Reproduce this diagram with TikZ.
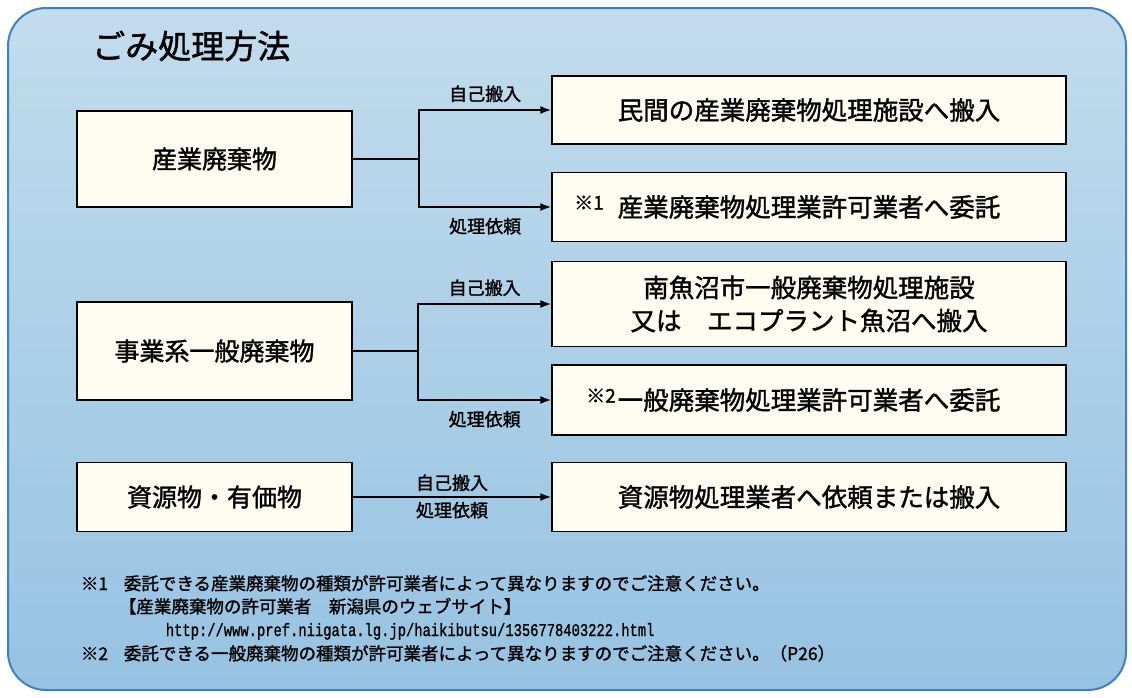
\documentclass[tikz,border=0pt]{standalone}
\usepackage{fontspec}
\setmainfont{Noto Sans CJK JP}[FakeBold=1.4]
\newfontfamily\urlfont{Liberation Mono}[FakeBold=1.2]
\usetikzlibrary{arrows.meta}
\definecolor{paneltop}{RGB}{194,220,237}
\definecolor{panelbot}{RGB}{150,195,226}
\definecolor{panelline}{RGB}{62,128,192}
\definecolor{boxfill}{RGB}{255,253,242}
\tikzstyle{waste} = [rectangle, draw=black, fill=boxfill, line width=1.4pt, minimum width=275pt, font=\fontsize{25}{30}\selectfont]
\tikzstyle{route} = [rectangle, draw=black, fill=boxfill, line width=1.4pt, minimum width=514pt, align=center, font=\fontsize{25.5}{33}\selectfont]
\tikzstyle{way} = [font=\fontsize{18}{18}\selectfont, inner sep=2pt]
\tikzstyle{note} = [anchor=base west, inner sep=0pt, font=\fontsize{17.5}{20}\selectfont]
\newcommand{\kome}[2][2pt]{\llap{\raisebox{7pt}{\fontsize{19}{19}\selectfont ※#2}\hspace{#1}}}

\begin{document}
\begin{tikzpicture}[x=1pt, y=-1pt, >={Latex[length=11pt,width=8pt]}, line width=1.8pt]
	\useasboundingbox (0,0) rectangle (1132,697);
	\path[draw=panelline, line width=2pt, top color=paneltop, bottom color=panelbot, rounded corners=38pt] (8,8) rectangle (1126,690);

	\node[anchor=west, font=\fontsize{33}{33}\selectfont] (title) at (88,46) {ごみ処理方法};

	\node[waste, minimum height=96pt] (sangyo) at (214.5,159) {産業廃棄物};
	\node[waste, minimum height=98pt] (jigyo) at (214.5,351) {事業系一般廃棄物};
	\node[waste, minimum height=69pt] (shigen) at (214.5,497) {資源物・有価物};

	\node[route, minimum height=68pt] (minkan) at (809,110) {民間の産業廃棄物処理施設へ搬入};
	\node[route, minimum height=69pt] (itaku1) at (809,207) {\kome[14pt]{1}産業廃棄物処理業許可業者へ委託};
	\node[route, minimum height=85pt] (shisetsu) at (809,304) {南魚沼市一般廃棄物処理施設\\又は　エコプラント魚沼へ搬入};
	\node[route, minimum height=70pt] (itaku2) at (809,400) {\kome{2}一般廃棄物処理業許可業者へ委託};
	\node[route, minimum height=69pt] (gyosha) at (809,497) {資源物処理業者へ依頼または搬入};

	\coordinate (fork1) at (419,159);
	\coordinate (fork2) at (418,351);
	\draw (sangyo) -- (fork1);
	\draw (jigyo) -- (fork2);
	\foreach \f\u\d in {fork1/minkan/itaku1, fork2/shisetsu/itaku2}{
		\draw[->] (\f) |- (\u.west) node[way, pos=0.75, above=5pt] {自己搬入};
		\draw[->] (\f) |- (\d.west) node[way, pos=0.75, below=8pt] {処理依頼};
	}
	\draw[->] (shigen) -- (gyosha) node[way, midway, above=3pt] {自己搬入} node[way, midway, below=2pt] {処理依頼};

	\node[note] (mark1) at (80,590) {※1};
	\node[note] (note1) at (123,590) {委託できる産業廃棄物の種類が許可業者によって異なりますのでご注意ください。};
	\node[note] (site) at (118,613) {【産業廃棄物の許可業者　新潟県のウェブサイト】};
	\node[note, font=\urlfont\fontsize{13.8}{16}\selectfont] (url) at (165,636) {\scalebox{1}[1.3]{http://www.pref.niigata.lg.jp/haikibutsu/1356778403222.html}};
	\node[note] (mark2) at (80,660) {※2};
	\node[note] (note2) at (123,660) {委託できる一般廃棄物の種類が許可業者によって異なりますのでご注意ください。（P26）};
\end{tikzpicture}
\end{document}
